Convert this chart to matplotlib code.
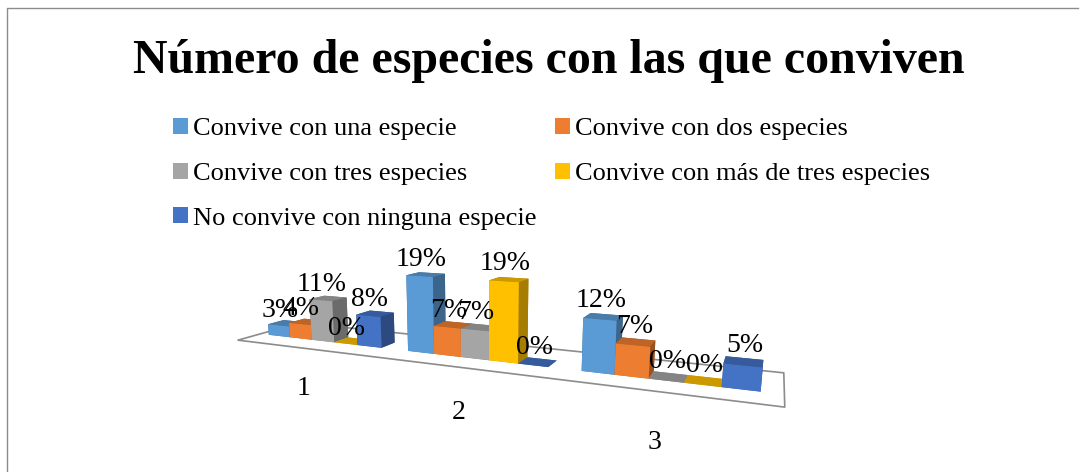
import matplotlib
matplotlib.use('Agg')

import matplotlib.pyplot as plt
import numpy as np
from matplotlib.colors import to_rgb
from matplotlib.lines import Line2D
from matplotlib.patches import Patch
from mpl_toolkits.mplot3d import proj3d
from mpl_toolkits.mplot3d.art3d import Poly3DCollection

plt.rcParams['font.family'] = ['Liberation Serif', 'DejaVu Serif']

# Data
categories = ['1', '2', '3']
series_names = ['Convive con una especie', 'Convive con dos especies',
                'Convive con tres especies', 'Convive con más de tres especies',
                'No convive con ninguna especie']
series_colors = ['#5B9BD5', '#ED7D31', '#A5A5A5', '#FFC000', '#4472C4']
una = [3, 19, 12]
dos = [4, 7, 7]
tres = [11, 7, 0]
mas = [0, 19, 0]
ninguna = [8, 0, 5]
values = [una, dos, tres, mas, ninguna]

BAR_W = 0.165
BAR_D = 0.25


def shade(color, k):
    return tuple(c * k for c in to_rgb(color))


def label_3d(ax, x, y, z, text, size):
    """Put a flat label at the screen position of a 3D point."""
    px, py, _ = proj3d.proj_transform(x, y, z, ax.get_proj())
    ax.text2D(px, py, text, transform=ax.transData, ha='center', va='center',
              fontsize=size, zorder=5)


fig = plt.figure(figsize=(10.85, 4.72), dpi=100)
fig.patch.set_facecolor('white')

# outer chart border, only top and left are in frame
fig.add_artist(Line2D([7 / 1085, 7 / 1085, 1078 / 1085], [0, 1 - 8 / 472, 1 - 8 / 472],
                      transform=fig.transFigure, color='#8c8c8c', linewidth=1))

fig.text(549 / 1085, 1 - 61 / 472, 'Número de especies con las que conviven',
         ha='center', va='center', fontsize=34.5, fontweight='bold')

# legend fills column by column
order = [0, 2, 4, 1, 3]
handles = [Patch(facecolor=series_colors[i], label=series_names[i]) for i in order]
fig.legend(handles=handles, loc='upper left', bbox_to_anchor=(173 / 1085, 1 - 118 / 472),
           ncol=2, frameon=False, fontsize=19, handlelength=0.55, handleheight=0.55,
           handletextpad=0.2, labelspacing=0.85, columnspacing=0.72,
           borderpad=0, borderaxespad=0)

ax = fig.add_axes([73 / 1085, (472 - 325 - 400) / 472, 800 / 1085, 800 / 472],
                  projection='3d', computed_zorder=False)
ax.set_axis_off()
ax.patch.set_alpha(0)
ax.view_init(elev=11, azim=-66)
ax.set_proj_type('persp', focal_length=0.15)
ax.set_box_aspect((4, 0.75, 0.6), zoom=0.69)
ax.set_xlim(0, 3)
ax.set_ylim(0, 1)
ax.set_zlim(0, 20)

floor = [[(0, 0, 0), (3, 0, 0), (3, 1, 0), (0, 1, 0)]]
ax.add_collection3d(Poly3DCollection(floor, facecolor='white', edgecolor='#8c8c8c',
                                     linewidth=1.2, zorder=1))

xs, zs, cols, tops = [], [], [], []
for g in range(len(categories)):
    for s, vals in enumerate(values):
        xs.append(g + 0.08 + s * BAR_W)
        zs.append(vals[g])
        c = series_colors[s]
        # bottom, top, front, back, left, right
        cols += [shade(c, 0.8), shade(c, 0.8), shade(c, 1.0),
                 shade(c, 0.65), shade(c, 0.65), shade(c, 0.65)]
        tops.append(f'{vals[g]}%')

ys = np.full(len(xs), 0.32)
ax.bar3d(xs, ys, np.zeros(len(xs)), BAR_W, BAR_D, zs, color=cols, shade=False,
         zsort='max', zorder=2)

for x, z, t in zip(xs, zs, tops):
    label_3d(ax, x + BAR_W / 2, 0.35, z + 4, t, 20)

for g, name in enumerate(categories):
    label_3d(ax, g + 0.48, 0, -11, name, 20)

plt.savefig('out.png', dpi=100)
